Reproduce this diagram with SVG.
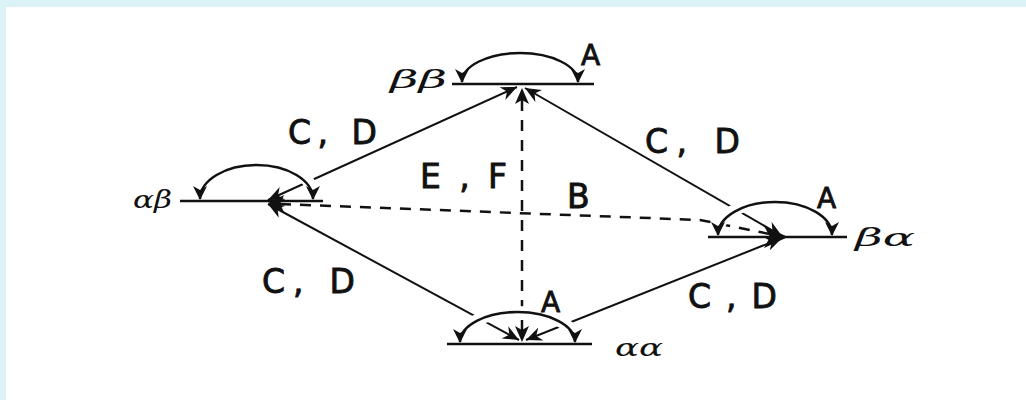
<svg xmlns="http://www.w3.org/2000/svg" width="1026" height="400" viewBox="0 0 1026 400">
<style>
.base{stroke:#111;stroke-width:2.5;fill:none}
.arc{stroke:#111;stroke-width:2.5;fill:none;marker-start:url(#ah);marker-end:url(#ah)}
.halo{stroke:#fff;stroke-width:12;fill:none}
.con{stroke:#111;stroke-width:2;fill:none;marker-start:url(#ch);marker-end:url(#ch)}
.dash{stroke:#111;stroke-width:2.5;fill:none;stroke-dasharray:11 9}
.lbl{font-family:"DejaVu Sans","Liberation Sans",sans-serif;font-size:33px;fill:#111;stroke:#111;stroke-width:0.9}
.a{font-family:"DejaVu Sans","Liberation Sans",sans-serif;font-size:28px;fill:#111;stroke:#111;stroke-width:0.9}
.gr{font-family:"DejaVu Serif","Liberation Serif",serif;font-style:italic;font-size:25px;fill:#111}
</style>
<defs>
<marker id="ah" markerUnits="userSpaceOnUse" markerWidth="16" markerHeight="14" refX="13" refY="7" orient="auto-start-reverse">
<path d="M0,0 L14,7 L0,14 L4,7 Z" fill="#111"/>
</marker>
<marker id="ch" markerUnits="userSpaceOnUse" markerWidth="18" markerHeight="14" refX="16" refY="7" orient="auto-start-reverse">
<path d="M0,0 L16,7 L0,14 L5,7 Z" fill="#111"/>
</marker>
</defs>
<rect x="0" y="0" width="1026" height="400" fill="#fff"/>
<rect x="0" y="0" width="1026" height="7" fill="#dbf3f7"/>
<rect x="0" y="0" width="6" height="400" fill="#dbf3f7"/>

<g id="connectors">
<line class="con" x1="268" y1="200" x2="517" y2="87"/>
<line class="con" x1="525" y1="88" x2="782" y2="236"/>
<line class="con" x1="268" y1="204" x2="519" y2="340"/>
<line class="con" x1="526" y1="340" x2="782" y2="238"/>
<path class="dash" d="M280,204 L700,220 L770,234"/>
<path d="M268,203 L284,195 L280,204 L284,212 Z" fill="#111"/>
<path d="M788,237 L764,226 L770,237 L764,248 Z" fill="#111"/>
<line class="dash" x1="522" y1="100" x2="522" y2="330"/>
<path d="M522,88 L515,104 L522,100 L529,104 Z" fill="#111"/>
<path d="M522,342 L515,326 L522,330 L529,326 Z" fill="#111"/>
<text class="lbl" x="288" y="144" textLength="89" lengthAdjust="spacing">C, D</text>
<text class="lbl" x="645" y="153" textLength="95" lengthAdjust="spacing">C, D</text>
<text class="lbl" x="262" y="293" textLength="93" lengthAdjust="spacing">C, D</text>
<text class="lbl" x="688" y="308" textLength="89" lengthAdjust="spacing">C,D</text>
<text class="lbl" x="420" y="188" textLength="87" lengthAdjust="spacing">E,F</text>
<text class="lbl" x="567" y="208" font-size="30">B</text>
</g>

<g id="node-bb">
<path class="halo" d="M462,80 A58,28 0 0 1 578,80"/>
<line class="base" x1="452" y1="84" x2="594" y2="84"/>
<path class="arc" d="M462,82 A58,29 0 0 1 578,82"/>
<text class="gr" x="390" y="88" textLength="57" lengthAdjust="spacingAndGlyphs">ββ</text>
<text class="a" x="581" y="65">A</text>
</g>

<g id="node-ab">
<path class="halo" d="M200,195 A56.5,33 0 0 1 313,195"/>
<line class="base" x1="180" y1="201" x2="323" y2="201"/>
<path class="arc" d="M200,199 A56.5,34 0 0 1 313,199"/>
<text class="gr" x="133" y="208" textLength="39" lengthAdjust="spacingAndGlyphs">αβ</text>
</g>

<g id="node-ba">
<path class="halo" d="M718,232 A57,31 0 0 1 832,232"/>
<line class="base" x1="708" y1="237" x2="847" y2="237"/>
<path class="arc" d="M718,235 A57,33 0 0 1 832,235"/>
<text class="gr" x="855" y="246" textLength="60" lengthAdjust="spacingAndGlyphs">βα</text>
<text class="a" x="817" y="208">A</text>
</g>

<g id="node-aa">
<path class="halo" d="M460,340 A57.5,28 0 0 1 575,340"/>
<line class="base" x1="447" y1="344" x2="592" y2="344"/>
<path class="arc" d="M460,342 A57.5,30 0 0 1 575,342"/>
<text class="gr" x="615" y="356" textLength="48" lengthAdjust="spacingAndGlyphs">αα</text>
<text class="a" x="541" y="312">A</text>
</g>
</svg>
